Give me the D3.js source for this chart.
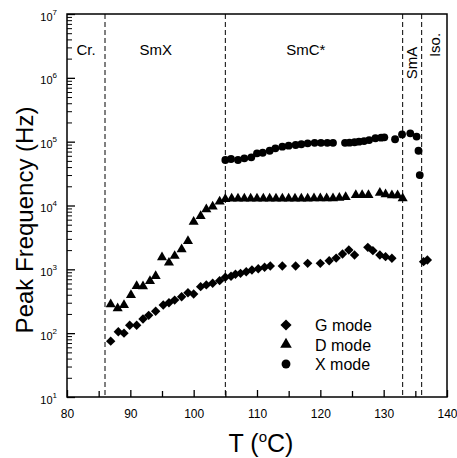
<!DOCTYPE html>
<html lang="en">
<head>
<meta charset="UTF-8">
<title>Peak frequency vs T</title>
<script src="https://cdn.jsdelivr.net/npm/d3@7"></script>
<style>
  body { margin: 0; background: #fff; }
  text { font-family: "Liberation Sans", Arial, sans-serif; }
</style>
</head>
<body>
<script>
// G mode (diamonds)
const gTemp = [86.9, 88.1, 89.0, 89.9, 91.0, 92.0, 92.9, 94.0, 95.2, 96.1, 97.0, 98.1, 99.1, 100.0, 101.1, 102.0, 103.0, 104.1, 105.0, 105.9,
  106.6, 107.4, 108.3, 109.2, 110.2, 111.2, 112.1, 114.0, 116.1, 118.0, 120.0, 121.4, 122.5, 123.5, 124.5, 125.4, 127.5, 128.3, 129.4, 130.3, 131.3, 136.3, 136.9];
const gFreq = [75, 105, 100, 133, 133, 167, 190, 220, 276, 300, 330, 372, 430, 410, 535, 570, 604, 664, 750, 780,
  836, 865, 918, 975, 1020, 1076, 1128, 1128, 1128, 1240, 1240, 1360, 1500, 1740, 2010, 1675, 2210, 1960, 1675, 1580, 1490, 1320, 1400];

// D mode (triangles)
const dTemp = [86.9, 88.0, 89.0, 90.1, 91.0, 92.0, 93.1, 94.0, 95.0, 96.1, 97.0, 98.1, 99.1, 100.0, 101.1, 102.0, 103.0, 104.1, 105.0,
  106, 107, 108, 109, 110, 111, 112, 113, 114, 115, 116, 117, 118, 119, 120, 121, 122, 123, 124,
  125.6, 126.6, 127.6, 129.4, 130.3, 131.3, 132.2, 133.0];
const dFreq = [283, 245, 276, 396, 548, 540, 656, 785, 1540, 1270, 1620, 2060, 2780, 5570, 6840, 8710, 9580, 11480, 12650,
  12800, 12800, 12800, 12800, 12800, 12800, 12800, 12800, 12800, 12800, 12800, 12800, 12800, 12900, 12900, 13000, 13000, 13200, 13500,
  14600, 14600, 14600, 15800, 15000, 14400, 14400, 13000];

// X mode (circles)
const xTemp = [105.0, 105.9, 107.0, 108.0, 109.1, 110.0, 110.9, 112.0, 112.9, 114.0, 115.0, 116.1, 117.0, 118.0, 119.1, 120.1, 121.1, 122.0,
  123.9, 124.6, 125.4, 126.1, 126.9, 127.7, 128.7, 129.6, 130.1, 131.8, 132.9, 134.2, 135.2, 135.5, 135.7];
const xFreq = [51600, 53500, 51600, 54800, 56900, 65700, 67000, 72100, 78700, 83400, 86500, 88700, 91000, 94300, 96000, 96000, 96000, 96000,
  96000, 96500, 98000, 100000, 102000, 106000, 113000, 115500, 117000, 109000, 130000, 135000, 120000, 72000, 30000];

const phaseBounds = [86, 105, 133, 136];
const phaseNames = ["Cr.", "SmX", "SmC*", "SmA", "Iso."];
const xMajor = [80, 90, 100, 110, 120, 130, 140];
const xMinor = [85, 95, 105, 115, 125, 135];
const yMajor = [1e1, 1e2, 1e3, 1e4, 1e5, 1e6, 1e7];
const legendNames = ["G mode", "D mode", "X mode"];

const width = 457, height = 458;
const x = d3.scaleLinear().domain([80, 140]).range([67, 447]);
const y = d3.scaleLog().domain([1e1, 1e7]).range([397, 14]);

const svg = d3.select("body").append("svg")
  .attr("width", width).attr("height", height);

const yMinor = [];
for (let k = 1; k < 7; k++) for (let m = 2; m < 10; m++) yMinor.push(m * Math.pow(10, k));

// x axis
svg.append("g")
  .attr("transform", `translate(0,${y.range()[0]})`)
  .call(d3.axisBottom(x).tickValues(xMajor).tickSizeInner(-7).tickSizeOuter(0).tickPadding(12))
  .call(g => g.select(".domain").remove())
  .call(g => g.selectAll("line").attr("stroke-width", 1.3))
  .call(g => g.selectAll("text").attr("font-size", 12).attr("font-family", "Liberation Sans, Arial, sans-serif"));
svg.append("g")
  .attr("transform", `translate(0,${y.range()[0]})`)
  .call(d3.axisBottom(x).tickValues(xMinor).tickSizeInner(-6).tickSizeOuter(0).tickFormat(""))
  .call(g => g.select(".domain").remove())
  .call(g => g.selectAll("line").attr("stroke-width", 1.3));

// y axis
svg.append("g")
  .attr("transform", `translate(${x.range()[0]},0)`)
  .call(d3.axisLeft(y).tickValues(yMajor).tickSizeInner(-8).tickSizeOuter(0).tickPadding(10).tickFormat(() => "10"))
  .call(g => g.select(".domain").remove())
  .call(g => g.selectAll("line").attr("stroke-width", 1.3))
  .call(g => g.selectAll(".tick text")
    .attr("font-size", 11).attr("font-family", "Liberation Sans, Arial, sans-serif")
    .attr("dy", "0.55em")
    .append("tspan").attr("dy", "-0.75em").attr("font-size", 8).text(d => Math.round(Math.log10(d))));
svg.append("g")
  .attr("transform", `translate(${x.range()[0]},0)`)
  .call(d3.axisLeft(y).tickValues(yMinor).tickSizeInner(-5).tickSizeOuter(0).tickFormat(""))
  .call(g => g.select(".domain").remove())
  .call(g => g.selectAll("line").attr("stroke-width", 1));

// frame
svg.append("rect")
  .attr("x", x(80)).attr("y", y(1e7))
  .attr("width", x(140) - x(80)).attr("height", y(1e1) - y(1e7))
  .attr("fill", "none").attr("stroke", "black").attr("stroke-width", 1.5);

// phase boundaries
svg.selectAll(".bound").data(phaseBounds).enter().append("line")
  .attr("class", "bound")
  .attr("x1", d => x(d)).attr("x2", d => x(d))
  .attr("y1", y(1e7)).attr("y2", y(1e1))
  .attr("stroke", "black").attr("stroke-width", 1).attr("stroke-dasharray", "5,3");

// phase names
const labelFont = 15;
svg.append("text").attr("x", x(83)).attr("y", 55).attr("text-anchor", "middle").attr("font-size", labelFont).text(phaseNames[0]);
svg.append("text").attr("x", x(94)).attr("y", 55).attr("text-anchor", "middle").attr("font-size", labelFont).text(phaseNames[1]);
svg.append("text").attr("x", x(117.7)).attr("y", 55).attr("text-anchor", "middle").attr("font-size", labelFont).text(phaseNames[2]);
svg.append("text").attr("transform", `translate(${x(134.4) + 5},63) rotate(-90)`).attr("text-anchor", "middle").attr("font-size", labelFont).text(phaseNames[3]);
svg.append("text").attr("transform", `translate(${x(138.1) + 5},45) rotate(-90)`).attr("text-anchor", "middle").attr("font-size", labelFont).text(phaseNames[4]);

// markers
const diamond = d3.symbol().type(d3.symbolSquare).size(44);
const triangle = d3.symbol().type(d3.symbolTriangle).size(44);
const circle = d3.symbol().type(d3.symbolCircle).size(48);

svg.append("g").selectAll("path").data(d3.zip(gTemp, gFreq)).enter().append("path")
  .attr("d", diamond)
  .attr("transform", d => `translate(${x(d[0])},${y(d[1])}) rotate(45)`);
svg.append("g").selectAll("path").data(d3.zip(dTemp, dFreq)).enter().append("path")
  .attr("d", triangle)
  .attr("transform", d => `translate(${x(d[0])},${y(d[1])})`);
svg.append("g").selectAll("path").data(d3.zip(xTemp, xFreq)).enter().append("path")
  .attr("d", circle)
  .attr("transform", d => `translate(${x(d[0])},${y(d[1])})`);

// legend
const legendSymbols = [
  d3.symbol().type(d3.symbolSquare).size(62),
  d3.symbol().type(d3.symbolTriangle).size(58),
  d3.symbol().type(d3.symbolCircle).size(62)
];
const legend = svg.append("g").attr("transform", "translate(286,325)");
legendNames.forEach((name, i) => {
  legend.append("path")
    .attr("d", legendSymbols[i])
    .attr("transform", `translate(0,${i * 19.5})${i === 0 ? " rotate(45)" : ""}`);
  legend.append("text")
    .attr("x", 29).attr("y", i * 19.5 + 6)
    .attr("font-size", 16)
    .text(name);
});

// axis titles
const xTitle = svg.append("text")
  .attr("x", 261).attr("y", 452)
  .attr("text-anchor", "middle").attr("font-size", 25);
xTitle.append("tspan").text("T (");
xTitle.append("tspan").attr("dy", -10).attr("font-size", 15).text("o");
xTitle.append("tspan").attr("dy", 10).text("C)");

svg.append("text")
  .attr("transform", "translate(33,220) rotate(-90)")
  .attr("text-anchor", "middle").attr("font-size", 24)
  .text("Peak Frequency (Hz)");
</script>
</body>
</html>
